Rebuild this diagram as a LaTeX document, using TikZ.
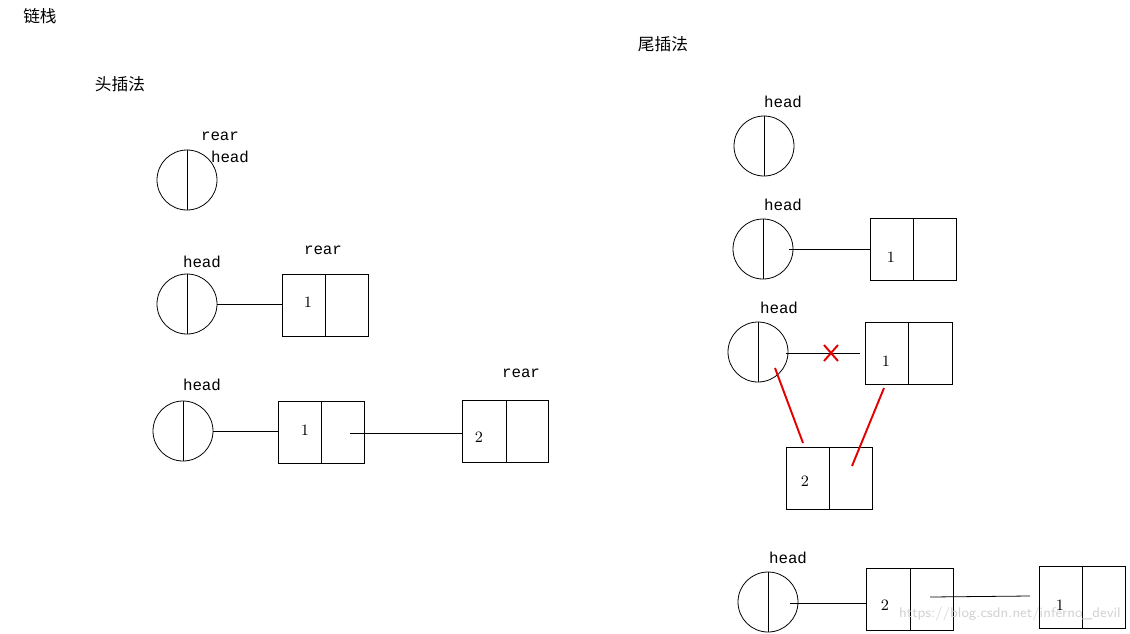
\documentclass[tikz,border=0pt]{standalone}
\usepackage{fontspec}
\setmonofont{Liberation Mono}
\newfontfamily\cjk{Noto Sans CJK SC}
\begin{document}
\begin{tikzpicture}[x=0.02cm,y=-0.02cm,
  lab/.style={font=\ttfamily\fontsize{9}{10}\selectfont,inner sep=0pt},
  num/.style={font=\fontsize{9}{10}\selectfont,inner sep=0pt},
  zh/.style={font=\cjk\fontsize{9.5}{10}\selectfont,inner sep=0pt},
  ln/.style={line width=0.45pt},
  red/.style={draw=red!90!black,line width=1.1pt}]
\useasboundingbox (0,0) rectangle (1130,633);
\newcommand{\circnode}[3]{%
  \node[circle,draw,line width=0.45pt,minimum size=60*0.02cm,inner sep=0pt] (#1) at (#2,#3) {};
  \draw[ln] (#1.north) -- (#1.south);}
\newcommand{\boxnode}[6]{% name x1 y1 x2 y2 xdiv
  \draw[ln] (#2,#3) rectangle (#4,#5);
  \draw[ln] (#6,#3) -- (#6,#5);
  \coordinate (#1) at (#2,#3/2+#5/2);}
\node[zh] (t0) at (40,16) {链栈};
\node[zh] (t1) at (120,84) {头插法};
\node[zh] (t2) at (663,44) {尾插法};
% left
\circnode{c1}{187}{180}
\node[lab] at (220,136) {rear};
\node[lab] at (230,157) {head};
\circnode{c2}{187}{304}
\node[lab] at (202,262) {head};
\boxnode{b2}{282}{274}{368}{336}{325}
\draw[ln] (c2.east) -- (c2.east -| b2);
\node[num] at (308,302) {1};
\node[lab] at (323,250) {rear};
\circnode{c3}{183}{431}
\node[lab] at (202,385) {head};
\boxnode{b3}{278}{401}{364}{463}{321}
\draw[ln] (c3.east) -- (c3.east -| b3);
\node[num] at (305,430) {1};
\boxnode{b4}{462}{400}{548}{462}{506}
\coordinate (s3) at (350,433);
\draw[ln] (s3) -- (s3 -| b4);
\node[num] at (479,437) {2};
\node[lab] at (521,373) {rear};
% right
\node[lab] at (783,102) {head};
\circnode{r1}{764}{146}
\node[lab] at (783,205) {head};
\circnode{r2}{763}{249}
\boxnode{rb2}{870}{218}{956}{280}{913}
\draw[ln] (789,249) -- (789,249 -| rb2);
\node[num] at (891,257) {1};
\node[lab] at (779,308) {head};
\circnode{r3}{758}{352}
\boxnode{rb3}{865}{322}{952}{384}{908}
\draw[ln] (786,353) -- (860,353);
\draw[red] (824,345) -- (838,361) (838,345) -- (824,361);
\node[num] at (886,361) {1};
\boxnode{rb4}{786}{447}{872}{509}{829}
\node[num] at (805,481) {2};
\draw[red] (775,368) -- (803,443);
\draw[red] (884,388) -- (852,466);
\node[lab] at (788,558) {head};
\circnode{r5}{768}{602}
\boxnode{rb5}{866}{568}{953}{630}{910}
\draw[ln] (790,603) -- (790,603 -| rb5);
\node[num] at (885,605) {2};
\boxnode{rb6}{1039}{566}{1125}{628}{1082}
\draw[ln] (930,597) -- (1030,596);
\node[num] at (1060,605) {1};
\node[font=\sffamily\fontsize{8}{9}\selectfont,text=gray!35,inner sep=0pt] at (1010,614) {https://blog.csdn.net/inferno\_devil};
\end{tikzpicture}
\end{document}
